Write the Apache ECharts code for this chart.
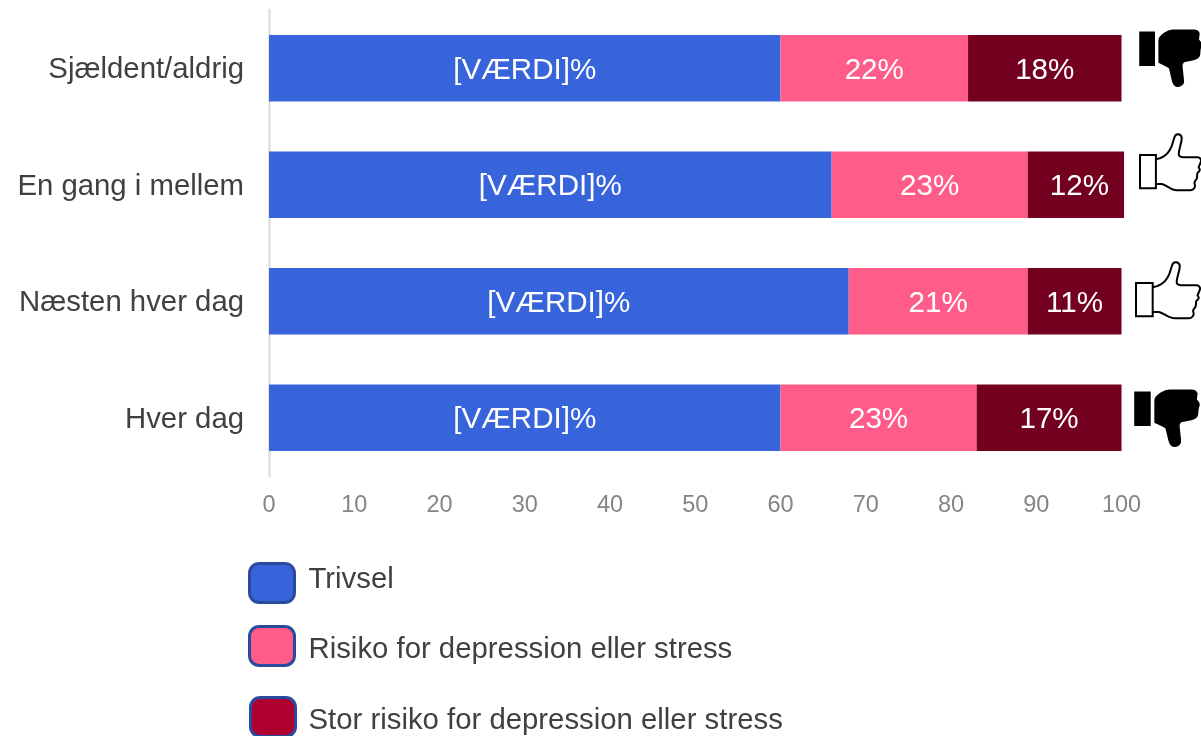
<!DOCTYPE html>
<html><head><meta charset="utf-8">
<style>html,body{margin:0;padding:0;background:#fff}#c{width:1201px;height:736px}</style>
<script src="https://cdn.jsdelivr.net/npm/echarts@6/dist/echarts.min.js"></script>
</head><body><div id="c"></div>
<script>
const categories = ['Sjældent/aldrig','En gang i mellem','Næsten hver dag','Hver dag'];
const trivsel = [60,66,68,60];
const risiko = [22,23,21,23];
const storRisiko = [18,12,11,17];
const thumbKinds = ['down','up','up','down'];
const seriesNames = ['Trivsel','Risiko for depression eller stress','Stor risiko for depression eller stress'];

const FONT = '"Liberation Sans", Arial, sans-serif';
const thumbUpCuff = 'M0 21H16V53H0Z';
const thumbUpHand = 'M16 25C22 24 27 21 30 16C33 12 33 7 35 3C36 0 41 0 42 4C42 10 39 15 39 20C39 22 41 23 43 23H58C61 23 62 26 61 28C60 31 59 32 59 33C61 35 60 37 58 38C57 40 58 42 57 44C56 46 54 46 55 49C56 52 54 55 51 55H37C31 55 27 50 22 49H16';
const thumbDownCuff = 'M0 2H14.3V35H0Z';
const thumbDownHand = 'M19.3 32V10C19.3 7 22 5 25 3C28 1 30 0 33 0H55C58 0 60 3 59 5C59 8 58 9 59 10C61 12 62 14 61 16C60 19 60 20 60 22C60 25 59 27 57 28C53 30 48 30 45 31C42 32 42 34 42 36L43.5 50C44 54 41 56 38 56C35 56 34 54 33 51L30 38C28 36 24 34 19.3 32Z';

const thumbPlacement = [
  {dx:18.5, dy:-38, w:61, h:56},
  {dx:18.5, dy:-50.5, w:61, h:56},
  {dx:14.5, dy:-39, w:64, h:56},
  {dx:13.5, dy:-27.5, w:64, h:56}
];

const LABEL_DY = 2.5;
const bar = (name, data, color, f) => ({
  name, type:'bar', stack:'t', data, barWidth:66.5, clip:true,
  itemStyle:{color}, emphasis:{disabled:true},
  label:{show:true, position:'inside', color:'#fff', fontFamily:FONT, fontSize:29.6, formatter:f, offset:[0,LABEL_DY]}
});
const legendToken = {color:'#404040', fontFamily:FONT, fontSize:29.33};
const leg = (name, color, left, top, richStyle) => ({
  left, top, orient:'horizontal', itemWidth:45, itemHeight:39, itemGap:13,
  icon:'roundRect', selectedMode:false,
  textStyle:{color:'#404040', fontFamily:FONT, fontSize:29.33, rich:{t:{...legendToken, ...richStyle}}},
  formatter:'{t|{name}}',
  data:[{name, icon:'roundRect', itemStyle:{color, borderColor:'#2A4A9F', borderWidth:3, borderRadius:7}}],
  padding:0
});

const chart = echarts.init(document.getElementById('c'), null, {renderer:'canvas'});
chart.setOption({
  animation:false,
  backgroundColor:'#fff',
  grid:{left:269, top:10, width:855.06, height:466, containLabel:false},
  xAxis:{type:'value', min:0, max:100.3, interval:10,
    axisLine:{show:false}, axisTick:{show:false}, splitLine:{show:false},
    axisLabel:{color:'#858585', fontFamily:FONT, fontSize:23.5, margin:18, showMaxLabel:false}},
  yAxis:{type:'category', inverse:true, data:categories,
    axisLine:{show:true, lineStyle:{color:'#E0E0E0', width:2.5}}, axisTick:{show:false},
    axisLabel:{color:'#404040', fontFamily:FONT, fontSize:29.33, margin:25,
      formatter:'{t|{value}}',
      rich:{t:{color:'#404040', fontFamily:FONT, fontSize:29.33, verticalAlign:'top', padding:[4,0,0,0]}}}},
  legend:[
    leg(seriesNames[0],'#3763DB',248,562,{verticalAlign:'bottom', padding:[0,0,6,9]}),
    leg(seriesNames[1],'#FF5C8A',248,625,{verticalAlign:'top', padding:[8,0,0,9]}),
    leg(seriesNames[2],'#AF0030',249,696,{verticalAlign:'top', padding:[8,0,0,8]})
  ],
  series:[
    bar(seriesNames[0],trivsel,'#3763DB','[VÆRDI]%'),
    bar(seriesNames[1],risiko,'#FF5C8A','{c}%'),
    bar(seriesNames[2],storRisiko.map((v,i)=> i===1 ? {value:v, label:{offset:[3.5,LABEL_DY]}} : v),'#740020','{c}%'),
    {type:'custom', name:'thumbs', silent:true, clip:false, tooltip:{show:false},
     data:thumbKinds.map((k,i)=>[100,i]), encode:{x:0,y:1},
     renderItem:(params, api)=>{
       const i = params.dataIndex, p = thumbPlacement[i];
       const [x,y] = api.coord([100,i]);
       const up = thumbKinds[i]==='up';
       return {type:'path',
         shape:{pathData: up ? thumbUpCuff+thumbUpHand : thumbDownCuff+thumbDownHand,
                x:x+p.dx, y:y+p.dy, width:p.w, height:p.h, layout:'cover'},
         style:{fill: up?'#fff':'#000', stroke:'#000', lineWidth: up?2:1.6}};
     }}
  ]
});
</script></body></html>
